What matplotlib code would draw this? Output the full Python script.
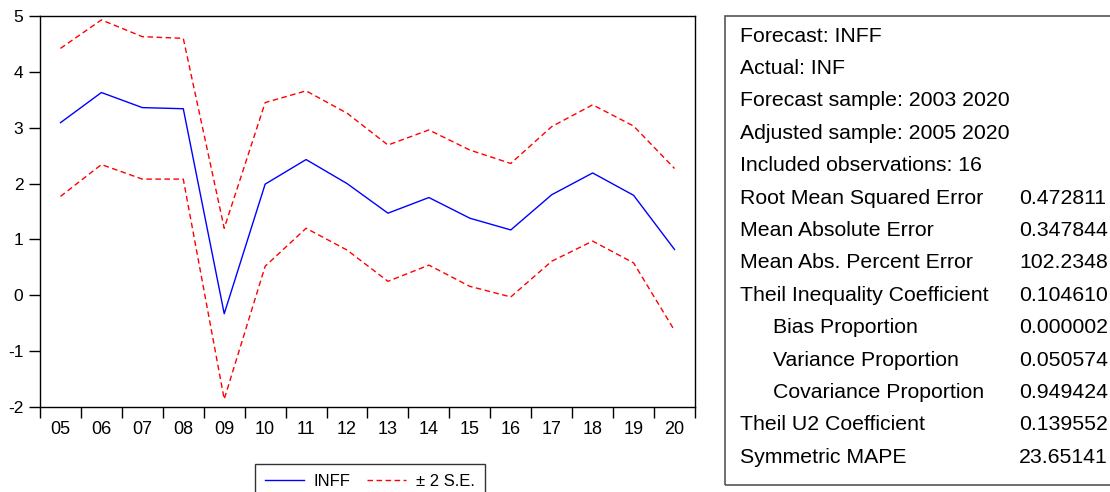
import matplotlib
matplotlib.use("Agg")
import matplotlib.pyplot as plt
from matplotlib.patches import Rectangle
import numpy as np

plt.rcParams["font.family"] = ["Liberation Sans", "DejaVu Sans"]

years = ["05", "06", "07", "08", "09", "10", "11", "12",
         "13", "14", "15", "16", "17", "18", "19", "20"]
inff = [3.09, 3.63, 3.36, 3.34, -0.33, 1.99, 2.43, 2.00,
        1.47, 1.75, 1.38, 1.17, 1.80, 2.19, 1.79, 0.82]
upper = [4.42, 4.93, 4.63, 4.60, 1.20, 3.45, 3.66, 3.26,
         2.69, 2.96, 2.60, 2.36, 3.02, 3.41, 3.03, 2.27]
lower = [1.77, 2.34, 2.08, 2.08, -1.86, 0.52, 1.20, 0.81,
         0.25, 0.54, 0.16, -0.03, 0.61, 0.97, 0.58, -0.63]

stat_labels = [
    "Forecast: INFF",
    "Actual: INF",
    "Forecast sample: 2003 2020",
    "Adjusted sample: 2005 2020",
    "Included observations: 16",
    "Root Mean Squared Error",
    "Mean Absolute Error",
    "Mean Abs. Percent Error",
    "Theil Inequality Coefficient",
    "Bias Proportion",
    "Variance Proportion",
    "Covariance Proportion",
    "Theil U2 Coefficient",
    "Symmetric MAPE",
]
stat_indent = [0, 0, 0, 0, 0, 0, 0, 0, 0, 1, 1, 1, 0, 0]
stat_values = ["", "", "", "", "",
               "0.472811", "0.347844", "102.2348", "0.104610",
               "0.000002", "0.050574", "0.949424", "0.139552", "23.65141"]

W, H = 1110, 492
fig = plt.figure(figsize=(W / 100, H / 100), dpi=100)
ax = fig.add_axes([40 / W, 1 - 407 / H, 655 / W, 391 / H])

x = np.arange(len(years))
ax.plot(x, inff, color="#0000ff", lw=1.0, label="INFF")
ax.plot(x, upper, color="#ff0000", lw=1.0, ls=(0, (4, 2.5)), label="\u00b1 2 S.E.")
ax.plot(x, lower, color="#ff0000", lw=1.0, ls=(0, (4, 2.5)))

ax.set_xlim(-0.5, len(years) - 0.5)
ax.set_ylim(-2, 5)
ax.set_yticks(range(-2, 6))
ax.set_yticklabels([str(v) for v in range(-2, 6)])
ax.set_xticks(np.arange(-0.5, len(years), 1.0))
ax.set_xticklabels([])
ax.set_xticks(x, minor=True)
ax.set_xticklabels(years, minor=True)
ax.tick_params(axis="x", which="major", direction="out", length=8, width=1)
ax.tick_params(axis="x", which="minor", length=0, pad=10, labelsize=13)
ax.tick_params(axis="y", direction="out", length=8, width=1, labelsize=12.5, pad=4)
for s in ax.spines.values():
    s.set_linewidth(1.0)

leg = fig.legend(loc="upper center", bbox_to_anchor=(370 / W, 1 - 464 / H),
                 ncol=2, frameon=True, fancybox=False, edgecolor="black",
                 fontsize=12, handlelength=2.3, columnspacing=1.0,
                 borderpad=0.6, handletextpad=0.6, borderaxespad=0)
leg.get_frame().set_linewidth(1.0)

# statistics panel on the right
fig.patches.append(Rectangle((725 / W, 1 - 485 / H), 400 / W, 469 / H,
                             transform=fig.transFigure, fill=False,
                             edgecolor="#555555", lw=1.2))
y0, dy = 36, 32.4
for i, (lab, val) in enumerate(zip(stat_labels, stat_values)):
    yy = 1 - (y0 + i * dy) / H
    xx = 740 + 33 * stat_indent[i]
    fig.text(xx / W, yy, lab, fontsize=15.3, va="center", ha="left")
    if val:
        fig.text(1019 / W, yy, val, fontsize=15.3, va="center", ha="left")

fig.savefig("out.png", dpi=100)
